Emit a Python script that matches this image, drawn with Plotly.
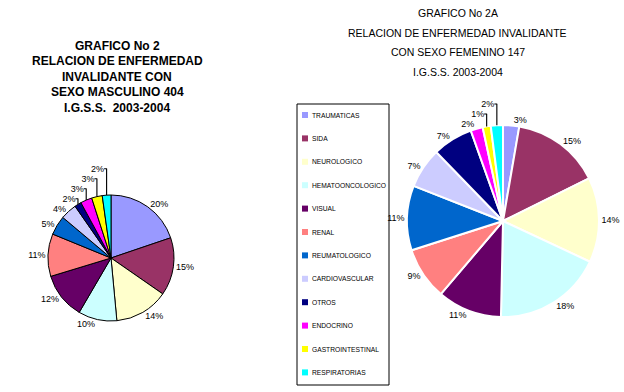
import plotly.graph_objects as go

categories = ["TRAUMATICAS", "SIDA", "NEUROLOGICO", "HEMATOONCOLOGICO", "VISUAL", "RENAL",
              "REUMATOLOGICO", "CARDIOVASCULAR", "OTROS", "ENDOCRINO", "GASTROINTESTINAL",
              "RESPIRATORIAS"]
colors = ["#9999FF", "#993366", "#FFFFCC", "#CCFFFF", "#660066", "#FF8080",
          "#0066CC", "#CCCCFF", "#000080", "#FF00FF", "#FFFF00", "#00FFFF"]
# counts (male total 404, female total 147), estimated from the percentages shown
male_counts = [80, 60, 56, 40, 48, 44, 20, 17, 7, 12, 11, 9]
female_counts = [4, 22, 21, 27, 16, 13, 16, 10, 10, 3, 2, 3]

title_left = ["GRAFICO No 2", "RELACION DE ENFERMEDAD", "INVALIDANTE CON",
              "SEXO MASCULINO 404", "I.G.S.S.  2003-2004"]
title_right = ["GRAFICO No 2A", "RELACION DE ENFERMEDAD INVALIDANTE",
               "CON SEXO FEMENINO 147", "I.G.S.S. 2003-2004"]

W, H = 624, 392
FONT = "Liberation Sans, Arial"


def px_x(a, b):
    return [a / W, b / W]


def px_y(top, bottom):
    return [1 - bottom / H, 1 - top / H]


fig = go.Figure()
fig.add_trace(go.Pie(
    labels=categories, values=male_counts, sort=False, direction="clockwise", rotation=0,
    marker=dict(colors=colors, line=dict(color="black", width=1)),
    textposition="outside", texttemplate="%{percent:.0%}",
    textfont=dict(family=FONT, size=9, color="black"),
    domain=dict(x=px_x(48, 174), y=px_y(195, 321)),
    showlegend=False, hoverinfo="label+percent",
))
fig.add_trace(go.Pie(
    labels=categories, values=female_counts, sort=False, direction="clockwise", rotation=0,
    marker=dict(colors=colors, line=dict(color="white", width=2)),
    textposition="outside", texttemplate="%{percent:.0%}",
    textfont=dict(family=FONT, size=9, color="black"),
    domain=dict(x=px_x(407, 599), y=px_y(125, 317)),
    showlegend=False, hoverinfo="label+percent",
))

# titles
for i, line in enumerate(title_left):
    fig.add_annotation(x=117 / W, y=1 - (46 + 15.5 * i) / H, xref="paper", yref="paper",
                       xanchor="center", yanchor="middle", text=line, showarrow=False,
                       font=dict(family=FONT, size=12, color="black", weight="bold"))
for i, line in enumerate(title_right):
    fig.add_annotation(x=458 / W, y=1 - (13 + 19.7 * i) / H, xref="paper", yref="paper",
                       xanchor="center", yanchor="middle", text=line, showarrow=False,
                       font=dict(family=FONT, size=10.5, color="black"))

# legend (boxed, built from the category / colour lists)
fig.add_shape(type="rect", xref="paper", yref="paper",
              x0=297 / W, x1=389 / W, y0=1 - 385 / H, y1=1 - 104 / H,
              line=dict(color="black", width=1), fillcolor="white", layer="below")
for i, (cat, col) in enumerate(zip(categories, colors)):
    yc = 115 + 23.4 * i
    fig.add_shape(type="rect", xref="paper", yref="paper",
                  x0=302 / W, x1=308 / W, y0=1 - (yc + 3) / H, y1=1 - (yc - 3) / H,
                  line=dict(width=0), fillcolor=col)
    fig.add_annotation(x=310 / W, y=1 - yc / H, xref="paper", yref="paper",
                       xanchor="left", yanchor="middle", text=cat, showarrow=False,
                       font=dict(family=FONT, size=6.7, color="black"))

fig.update_layout(
    width=W, height=H, margin=dict(l=0, r=0, t=0, b=0),
    paper_bgcolor="white", plot_bgcolor="white", showlegend=False,
)
fig.write_html("out.html", config={"displayModeBar": False},
               post_script="document.body.style.margin='0';document.body.style.overflow='hidden';")
